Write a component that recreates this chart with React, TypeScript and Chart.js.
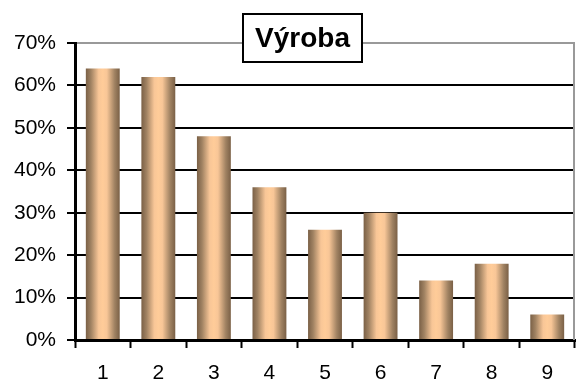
import React, { useEffect, useRef } from "react";
import { Chart, registerables } from "chart.js";

Chart.register(...registerables);

const categories = ["1", "2", "3", "4", "5", "6", "7", "8", "9"];
const values = [64, 62, 48, 36, 26, 30, 14, 18, 6];
const titleText = "Výroba";
const yMax = 70;
const yStep = 10;

const FONT = "'Liberation Sans', Arial, sans-serif";

const titlePlugin = {
  id: "boxTitle",
  afterDraw(chart: any) {
    const c = chart.ctx;
    c.save();
    const x0 = 243, y0 = 14, w = 119, h = 48;
    c.fillStyle = "#ffffff";
    c.fillRect(x0, y0, w, h);
    c.strokeStyle = "#000000";
    c.lineWidth = 2;
    c.strokeRect(x0, y0, w, h);
    c.fillStyle = "#000000";
    c.font = `bold 28px ${FONT}`;
    c.textAlign = "center";
    c.textBaseline = "middle";
    c.fillText(titleText, x0 + w / 2, y0 + h / 2 + 1);
    c.restore();
  },
};

const borderPlugin = {
  id: "rightBorder",
  beforeDatasetsDraw(chart: any) {
    const { top, bottom, right } = chart.chartArea;
    const c = chart.ctx;
    c.save();
    c.strokeStyle = "#999999";
    c.lineWidth = 2;
    c.beginPath();
    c.moveTo(right - 1, top);
    c.lineTo(right - 1, bottom);
    c.stroke();
    c.restore();
  },
};

export default function App() {
  const ref = useRef<HTMLCanvasElement>(null);
  useEffect(() => {
    if (!ref.current) return;
    const barPct = 0.61;
    const chart = new Chart(ref.current, {
      type: "bar",
      data: {
        labels: categories,
        datasets: [
          {
            data: values,
            barPercentage: barPct,
            categoryPercentage: 1,
            borderWidth: 0,
            backgroundColor: (ctx: any) => {
              const ch = ctx.chart;
              const xs = ch.scales && ch.scales.x;
              if (!xs || ctx.dataIndex === undefined) return "#ffcc99";
              const cx = xs.getPixelForValue(ctx.dataIndex);
              const w = (xs.width / categories.length) * barPct;
              if (!isFinite(cx) || !isFinite(w) || w <= 0) return "#ffcc99";
              const g = ch.ctx.createLinearGradient(cx - w / 2, 0, cx + w / 2, 0);
              g.addColorStop(0, "#7a6046");
              g.addColorStop(0.15, "#a08262");
              g.addColorStop(0.38, "#f8c697");
              g.addColorStop(0.5, "#ffcc99");
              g.addColorStop(0.62, "#f8c697");
              g.addColorStop(0.85, "#a08262");
              g.addColorStop(1, "#7a6046");
              return g;
            },
          },
        ],
      },
      options: {
        responsive: false,
        animation: false,
        layout: { padding: { left: 0, right: 1, top: 43, bottom: 0 } },
        plugins: {
          legend: { display: false },
          title: { display: false },
          tooltip: { enabled: false },
        },
        scales: {
          x: {
            afterFit: (s: any) => {
              s.height = 43;
            },
            grid: {
              offset: true,
              drawOnChartArea: false,
              drawTicks: true,
              tickLength: 8,
              tickWidth: 2,
              tickColor: "#000000",
            },
            border: { color: "#000000", width: 3 },
            ticks: {
              color: "#000000",
              font: { family: FONT, size: 21 },
              padding: 13,
            },
          },
          y: {
            min: 0,
            max: yMax,
            afterFit: (s: any) => {
              s.width = 75;
            },
            grid: {
              color: (ctx: any) => (ctx.tick && ctx.tick.value === yMax ? "#999999" : "#000000"),
              lineWidth: 2,
              tickLength: 8,
              tickWidth: 2,
              tickColor: "#000000",
            },
            border: { color: "#000000", width: 3 },
            ticks: {
              stepSize: yStep,
              color: "#000000",
              font: { family: FONT, size: 21 },
              padding: 11,
              callback: (v: any) => `${v}%`,
            },
          },
        },
      },
      plugins: [borderPlugin, titlePlugin],
    });
    return () => chart.destroy();
  }, []);
  return (
    <div style={{ position: "absolute", left: 0, top: 0, width: 576, height: 383, background: "#fff" }}>
      <canvas ref={ref} width={576} height={383} style={{ width: 576, height: 383 }} />
    </div>
  );
}
